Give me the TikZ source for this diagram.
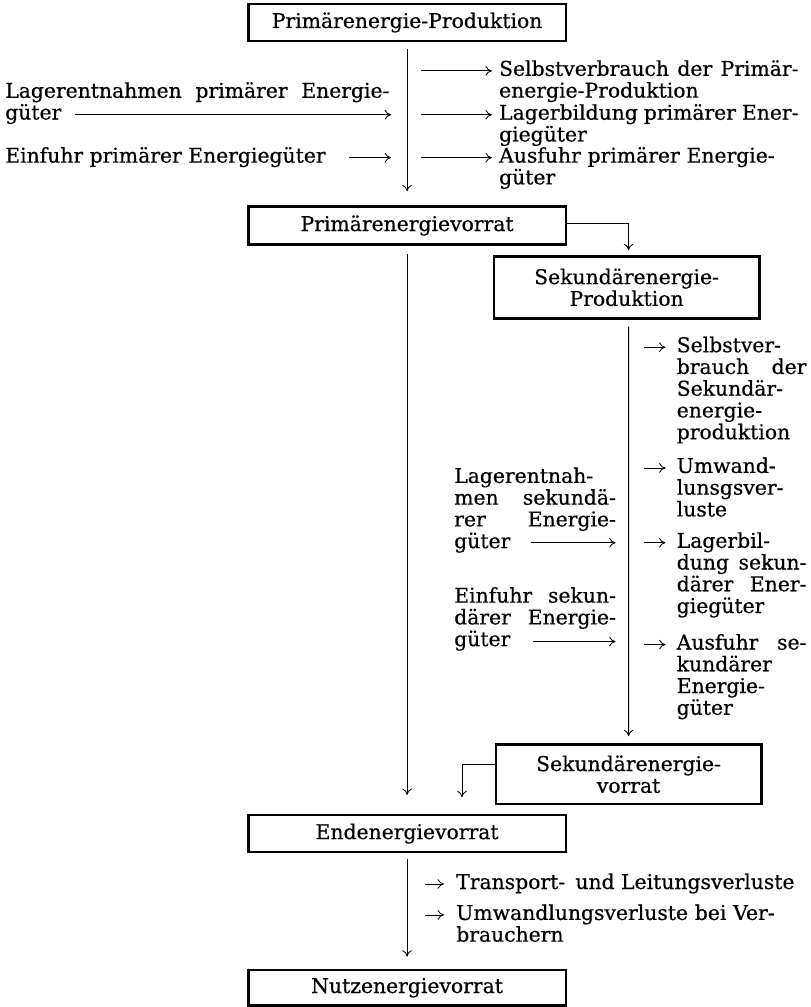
\documentclass[tikz,border=0pt]{standalone}
\usepackage{fontspec}
\setmainfont{DejaVu Serif}[FakeBold=0.5]
\usetikzlibrary{arrows.meta,calc}
\hyphenpenalty=10000
\exhyphenpenalty=10000

\begin{document}
\begin{tikzpicture}[x=0.025cm, y=-0.025cm,
  every node/.style={font=\fontsize{14.5}{15.5}\selectfont},
  box/.style={draw, line width=1.8pt, minimum width=7.95cm, minimum height=0.925cm, inner sep=2pt, align=center},
  txt/.style={anchor=base west, inner sep=0pt, align=justify},
  arr/.style={-{To[length=1.6mm,width=2.4mm]}, line width=0.6pt}]
\fill[white] (0,0) rectangle (812,1007);

% boxes
\node[box] (pp) at (408,22.5) {Primärenergie-Produktion};
\node[box, minimum height=0.95cm] (pv) at (408,226) {Primärenergievorrat};
\node[box, minimum width=6.65cm, minimum height=1.55cm] (sp) at (628,288) {Sekundärenergie-\\Produktion};
\node[box, minimum width=6.65cm, minimum height=1.5cm] (sv) at (630,776) {Sekundärenergie-\\vorrat};
\node[box] (ev) at (408,835.5) {Endenergievorrat};
\node[box, minimum height=0.9cm] (nv) at (408,990) {Nutzenergievorrat};

% primaer
\node[txt, text width=9.625cm] (lp) at (5,98) {Lagerentnahmen primärer Energie-\linebreak güter};
\node[txt] (ep) at (5,163) {Einfuhr primärer Energiegüter};
\node[txt, text width=7.5cm] (svp) at (500,76) {Selbstverbrauch der Primär-\linebreak energie-Produktion};
\node[txt, text width=7.5cm] (lbp) at (500,120) {Lagerbildung primärer Ener-\linebreak giegüter};
\node[txt, text width=7.5cm, align=left] (afp) at (500,163) {Ausfuhr primärer Energie-\\güter};

% sekundaer
\node[txt, text width=4.05cm] (ls) at (455,484) {Lagerentnah-\linebreak men sekundä-\linebreak rer Energie-\linebreak güter};
\node[txt, text width=4.05cm] (es) at (455,604) {Einfuhr sekun-\linebreak därer Energie-\linebreak güter};
\node[txt, text width=3.25cm] (svs) at (678,353) {Selbstver-\linebreak brauch der\linebreak Sekundär-\linebreak energie-\linebreak produktion};
\node[txt, text width=3.25cm] (uws) at (678,474) {Umwand-\linebreak lunsgsver-\linebreak luste};
\node[txt, text width=3.25cm] (lbs) at (678,549) {Lagerbil-\linebreak dung sekun-\linebreak därer Ener-\linebreak giegüter};
\node[txt, text width=3.25cm] (afs) at (678,651) {Ausfuhr se-\linebreak kundärer\linebreak Energie-\linebreak güter};

% end
\node[txt] (tl) at (457,891) {Transport-\enspace und Leitungsverluste};
\node[txt, text width=8.8cm, align=left] (uv) at (457,922) {Umwandlungsverluste bei Ver-\\brauchern};

% main flow
\draw[arr, shorten <=0.175cm, shorten >=0.35cm] (pp) -- (pv);
\draw[arr, shorten >=0.125cm] ([yshift=0.06cm]pv.east) -| ([xshift=0.05cm]sp.north);
\draw[arr, shorten <=0.2cm, shorten >=0.475cm] (pv) -- (ev);
\draw[arr, shorten <=0.175cm, shorten >=0.175cm] ([xshift=0.05cm]sp.south) -- (sv);
\coordinate (j2) at (463,817);
\draw[arr, shorten >=0.45cm] ([yshift=0.25cm]sv.west) -| (j2);
\draw[arr, shorten <=0.15cm, shorten >=0.3cm] (ev) -- (nv);

% arrows primaer
\coordinate (l1) at (75,115);
\coordinate (l2) at (350,158);
\draw[arr, shorten >=0.4cm] (l1) -- (l1 -| pp.south);
\draw[arr, shorten >=0.4cm] (l2) -- (l2 -| pp.south);
\coordinate (r1) at (422,71);
\coordinate (r2) at (422,115);
\coordinate (r3) at (422,158);
\draw[arr, shorten >=0.175cm] (r1) -- (r1 -| svp.west);
\draw[arr, shorten >=0.175cm] (r2) -- (r2 -| lbp.west);
\draw[arr, shorten >=0.175cm] (r3) -- (r3 -| afp.west);

% arrows sekundaer
\coordinate (l3) at (532,544);
\coordinate (l4) at (534,643);
\draw[arr, shorten >=0.325cm] (l3) -- (l3 -| sv.north);
\draw[arr, shorten >=0.325cm] (l4) -- (l4 -| sv.north);
\coordinate (s1) at (645,348);
\coordinate (s2) at (645,469);
\coordinate (s3) at (645,544);
\coordinate (s4) at (645,646);
\draw[arr, shorten >=0.275cm] (s1) -- (s1 -| svs.west);
\draw[arr, shorten >=0.275cm] (s2) -- (s2 -| uws.west);
\draw[arr, shorten >=0.275cm] (s3) -- (s3 -| lbs.west);
\draw[arr, shorten >=0.275cm] (s4) -- (s4 -| afs.west);

% arrows end
\coordinate (t1) at (426,886);
\coordinate (t2) at (426,917);
\draw[arr, shorten >=0.3cm] (t1) -- (t1 -| tl.west);
\draw[arr, shorten >=0.3cm] (t2) -- (t2 -| uv.west);
\end{tikzpicture}
\end{document}
